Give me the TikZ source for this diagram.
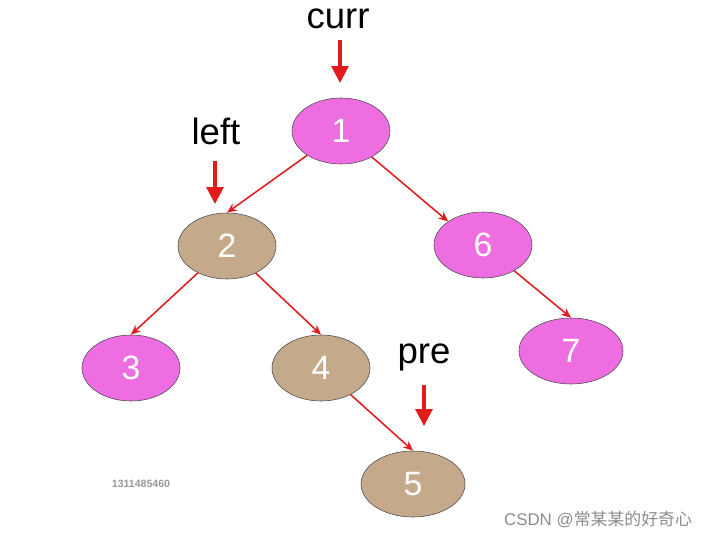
\documentclass[tikz,border=0pt]{standalone}
\usepackage{fontspec}
\setmainfont{Liberation Sans}
\newfontfamily\cjk{Noto Sans CJK SC}
\usepackage{xcolor}
\usepackage{tikz}
\usetikzlibrary{shapes.geometric, arrows.meta}

\definecolor{pinknode}{RGB}{238,110,226}
\definecolor{brownnode}{RGB}{197,169,139}
\definecolor{edgered}{RGB}{226,28,28}

\begin{document}
\begin{tikzpicture}[x=0.025cm, y=-0.025cm,
    pnode/.style={ellipse, draw=black!70, fill=pinknode, minimum width=2.45cm, minimum height=1.65cm, inner sep=0pt, text=white, font=\fontsize{24}{24}\selectfont},
    bnode/.style={pnode, fill=brownnode},
    edge/.style={draw=edgered, line width=1.1pt, -{Stealth[length=7pt, width=6pt]}},
    pointer/.style={draw=edgered, line width=2.2pt, -{Triangle[length=12pt, width=12pt]}},
    tag/.style={font=\fontsize{26}{26}\selectfont}]
    \useasboundingbox (0,0) rectangle (719,539);
    % tree
    \node[pnode] (n1) at (341,131) {1};
    \node[bnode] (n2) at (227,246) {2};
    \node[pnode] (n6) at (483,245) {6};
    \node[pnode] (n3) at (131,368) {3};
    \node[bnode] (n4) at (321,368) {4};
    \node[pnode, minimum width=2.6cm] (n7) at (571,351) {7};
    \node[bnode, minimum width=2.6cm] (n5) at (413,484) {5};
    \draw[edge] (n1) -- (n2.north);
    \draw[edge] (n1) -- (n6.north west);
    \draw[edge] (n2) -- (n3.north);
    \draw[edge] (n2) -- (n4.north);
    \draw[edge] (n6) -- (n7.north);
    \draw[edge] (n4) -- (n5.north);
    % pointers
    \node[tag] (curr) at (338,19) {curr};
    \node[tag] (left) at (216,131) {left};
    \node[tag] (pre) at (424,357) {pre};
    \coordinate (currend) at (340,83);
    \coordinate (leftend) at (215,204);
    \coordinate (preend) at (424,426);
    \draw[pointer] (340,40) -- (currend);
    \draw[pointer] (215,161) -- (leftend);
    \draw[pointer] (424,385) -- (preend);
    % watermarks
    \node[text=black!40, font=\bfseries\fontsize{7.5}{7.5}\selectfont] (mark) at (141,484) {1311485460};
    \node[text=black!45, font=\fontsize{12}{12}\selectfont] (csdn) at (598,520) {CSDN @{\cjk 常某某的好奇心}};
\end{tikzpicture}
\end{document}
